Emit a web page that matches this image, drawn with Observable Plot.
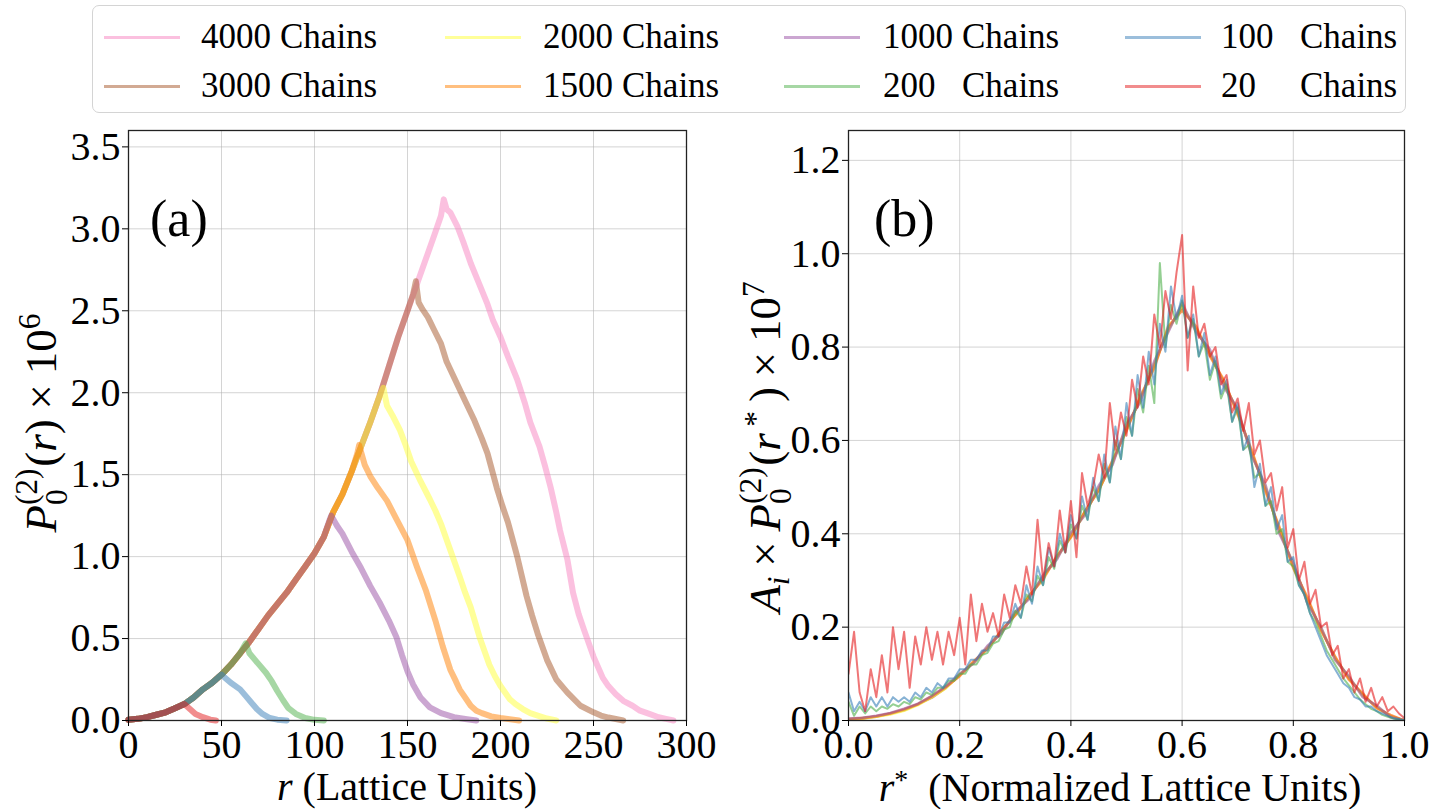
<!DOCTYPE html>
<html><head><meta charset="utf-8">
<script src="https://cdn.jsdelivr.net/npm/d3@7"></script>
<script src="https://cdn.jsdelivr.net/npm/@observablehq/plot@0.6"></script>
<style>
body{margin:0;background:#fff;width:1445px;height:809px;position:relative;overflow:hidden;font-family:"Liberation Serif","Times New Roman",serif;color:#000}
.abs{position:absolute;white-space:nowrap;line-height:1}
#legend{position:absolute;left:92px;top:5px;width:1314px;height:108px;border:1.5px solid #d4d4d4;border-radius:7px;box-sizing:border-box}
.lg-line{position:absolute;height:3px;margin-top:-1.5px;opacity:0.5}
.lg-text{position:absolute;font-size:35px;line-height:1;transform:translateY(-52%)}
.ylab{position:absolute;transform:translate(-50%,-50%) rotate(-90deg);font-size:45px;white-space:nowrap;line-height:1}
.xlab{position:absolute;transform:translate(-50%,-50%);font-size:40px;white-space:nowrap;line-height:1}
.ss{display:inline-block;font-size:0.7em;line-height:0.95;vertical-align:-0.36em;text-align:left;margin-right:0.05em}
.ss span{display:block}
.sp{font-size:0.7em;vertical-align:0.5em}
.tm{margin:0 0.22em}
.plab{position:absolute;font-size:52px;line-height:1}
</style></head><body>
<div id="legend"></div>
<div id="pa" class="abs" style="left:0;top:120px"></div>
<div id="pb" class="abs" style="left:720px;top:120px"></div>
<div class="plab" style="left:150px;top:193px">(a)</div>
<div class="plab" style="left:874px;top:193px">(b)</div>
<div class="ylab" style="left:42px;top:423px"><i>P</i><span class="ss"><span>(2)</span><span>0</span></span>(<i>r</i>)<span class="tm">×</span>10<span class="sp">6</span></div>
<div class="ylab" style="left:766px;top:447px"><i>A</i><span class="sp" style="vertical-align:-0.3em"><i>i</i></span><span class="tm">×</span><i>P</i><span class="ss"><span>(2)</span><span>0</span></span>(<i>r</i><span class="sp" style="vertical-align:0.45em">&thinsp;*</span>&thinsp;)<span class="tm">×</span>10<span class="sp">7</span></div>
<div class="xlab" style="left:407px;top:787px"><i>r</i> (Lattice Units)</div>
<div class="xlab" style="left:1120px;top:787px"><i>r</i><span class="sp" style="vertical-align:0.45em">*</span>&nbsp; (Normalized Lattice Units)</div>
<script>
// ---------- series ----------
const chains = ["4000","3000","2000","1500","1000","200","100","20"];
const colors = ["#f781bf","#a65628","#ffff33","#ff7f00","#984ea3","#4daf4a","#377eb8","#e41a1c"];

// ---------- panel (a): shared rising edge, r (lattice units) and P x 1e6 ----------
const riseR = [0,5,10,15,20,25,30,35,40,45,50,55,60,65,70,75,80,85,90,95,100,105,110,115,120,125,130,135,140,145,150,155,160,165];
const riseY = [0.005,0.01,0.02,0.035,0.05,0.075,0.10,0.14,0.19,0.23,0.28,0.34,0.41,0.48,0.56,0.64,0.71,0.78,0.86,0.94,1.02,1.12,1.27,1.38,1.52,1.67,1.82,1.98,2.16,2.34,2.50,2.66,2.82,2.98];
const riseEnd = [165,150,135,120,105,60,50,30];

const tail4000 = [[168,3.08],[169.5,3.18],[171,3.12],[173,3.10],[177,3.01],[180,2.92],[184,2.79],[188,2.68],[193,2.54],[196,2.44],[200,2.34],[204,2.22],[209,2.08],[213,1.94],[216,1.82],[221,1.67],[224,1.55],[227,1.42],[230,1.27],[232,1.16],[236,0.98],[239,0.78],[242,0.65],[245,0.55],[250,0.39],[255,0.26],[258,0.21],[262,0.16],[266,0.12],[271,0.09],[275,0.06],[280,0.04],[285,0.02],[289,0.01],[293,0]];
const tail3000 = [[153,2.60],[154.5,2.68],[156,2.55],[158,2.51],[161,2.46],[164,2.39],[168,2.30],[171,2.19],[176,2.07],[181,1.95],[186,1.83],[190,1.72],[193,1.63],[198,1.42],[201,1.31],[204,1.21],[209,1.00],[214,0.76],[217,0.64],[220,0.53],[225,0.37],[230,0.25],[236,0.17],[243,0.09],[250,0.05],[254,0.03],[258,0.018],[266,0]];
const tail2000 = [[137,2.03],[139,1.92],[142,1.86],[146,1.77],[149,1.68],[152,1.58],[157,1.46],[162,1.35],[165,1.28],[168,1.20],[173,1.04],[178,0.88],[181,0.78],[184,0.69],[189,0.50],[194,0.34],[197,0.27],[200,0.21],[205,0.13],[208,0.10],[212,0.07],[216,0.045],[220,0.03],[225,0.012],[230,0]];
const tail1500 = [[123,1.63],[124,1.68],[127,1.56],[130,1.49],[134,1.42],[139,1.34],[144,1.23],[150,1.10],[155,0.94],[160,0.79],[165,0.61],[169,0.45],[173,0.31],[176,0.24],[178,0.19],[184,0.09],[187,0.06],[190,0.045],[195,0.025],[200,0.015],[210,0]];
const tail1000 = [[108,1.22],[109,1.25],[112,1.19],[115,1.14],[120,1.03],[125,0.93],[130,0.82],[135,0.72],[140,0.61],[144,0.51],[147,0.40],[150,0.30],[153,0.22],[157,0.14],[162,0.08],[168,0.045],[175,0.02],[182,0.008],[187,0]];
const tail200 = [[62,0.45],[63,0.47],[65,0.41],[68,0.37],[71,0.33],[74,0.29],[77,0.24],[80,0.18],[83,0.125],[86,0.075],[90,0.04],[95,0.015],[100,0.004],[105,0]];
const tail100 = [[52,0.26],[55,0.23],[60,0.19],[63,0.15],[66,0.11],[69,0.07],[72,0.04],[76,0.015],[80,0.005],[85,0]];
const tail20 = [[33,0.07],[36,0.04],[40,0.02],[44,0.005],[47,0]];
const tails = [tail4000,tail3000,tail2000,tail1500,tail1000,tail200,tail100,tail20];

// ---------- panel (b): normalized r*, A_i P x 1e7 ----------
const rFine = d3.range(0, 101).map(i => i / 100);
const rCoarse = d3.range(0, 41).map(i => i / 40);
const b4000 = [0.002,0.004,0.009,0.014,0.023,0.034,0.051,0.071,0.096,0.126,0.156,0.19,0.229,0.266,0.306,0.349,0.397,0.444,0.497,0.556,0.622,0.692,0.758,0.842,0.88,0.842,0.783,0.727,0.658,0.577,0.493,0.412,0.329,0.262,0.194,0.136,0.089,0.056,0.027,0.011,0];
const b3000 = [0.002,0.005,0.008,0.015,0.022,0.035,0.049,0.07,0.098,0.124,0.155,0.192,0.227,0.265,0.307,0.351,0.394,0.447,0.494,0.553,0.627,0.688,0.762,0.838,0.887,0.838,0.787,0.723,0.662,0.573,0.497,0.408,0.332,0.258,0.196,0.134,0.091,0.054,0.029,0.009,0];
const b2000 = [0.003,0.004,0.008,0.013,0.021,0.033,0.05,0.069,0.099,0.123,0.157,0.188,0.23,0.263,0.308,0.348,0.398,0.442,0.498,0.552,0.63,0.686,0.765,0.836,0.89,0.836,0.79,0.72,0.664,0.57,0.5,0.405,0.335,0.255,0.198,0.132,0.093,0.052,0.03,0.008,0];
const b1500 = [0.003,0.005,0.009,0.015,0.024,0.035,0.052,0.072,0.095,0.127,0.153,0.193,0.225,0.268,0.302,0.353,0.392,0.448,0.492,0.558,0.62,0.695,0.755,0.845,0.878,0.845,0.78,0.73,0.655,0.58,0.49,0.415,0.326,0.265,0.192,0.138,0.087,0.058,0.026,0.012,0];
const b1000 = [0.004,0.006,0.01,0.016,0.025,0.036,0.053,0.073,0.1,0.122,0.16,0.186,0.233,0.26,0.312,0.345,0.402,0.44,0.503,0.548,0.635,0.682,0.77,0.832,0.895,0.832,0.795,0.715,0.668,0.567,0.505,0.4,0.338,0.252,0.2,0.13,0.095,0.05,0.032,0.007,0];
const b200 = [0.04,0.01,0.03,0.015,0.03,0.02,0.03,0.025,0.035,0.03,
  0.04,0.035,0.05,0.045,0.06,0.055,0.07,0.07,0.085,0.085,
  0.10,0.10,0.12,0.12,0.14,0.145,0.165,0.17,0.195,0.20,
  0.235,0.22,0.27,0.255,0.31,0.29,0.35,0.325,0.385,0.36,
  0.42,0.39,0.46,0.43,0.50,0.47,0.55,0.51,0.60,0.56,
  0.65,0.61,0.71,0.66,0.76,0.68,0.98,0.80,0.89,0.85,
  0.90,0.82,0.86,0.78,0.81,0.73,0.77,0.69,0.72,0.64,
  0.67,0.58,0.59,0.52,0.53,0.46,0.47,0.40,0.41,0.34,
  0.33,0.29,0.27,0.23,0.21,0.18,0.15,0.13,0.11,0.09,
  0.075,0.06,0.045,0.035,0.025,0.02,0.012,0.008,0.004,0.002,0];
const b100 = [0.06,0.02,0.04,0.02,0.05,0.03,0.05,0.03,0.05,0.04,
  0.05,0.04,0.06,0.05,0.07,0.06,0.08,0.07,0.09,0.09,
  0.11,0.11,0.13,0.13,0.15,0.15,0.18,0.18,0.21,0.21,
  0.25,0.22,0.29,0.25,0.33,0.29,0.37,0.33,0.40,0.36,
  0.44,0.39,0.48,0.43,0.52,0.47,0.57,0.51,0.63,0.56,
  0.68,0.61,0.74,0.67,0.79,0.72,0.85,0.79,0.93,0.86,
  0.91,0.82,0.87,0.78,0.83,0.74,0.78,0.70,0.73,0.64,
  0.68,0.58,0.61,0.50,0.55,0.46,0.50,0.41,0.44,0.34,
  0.35,0.29,0.27,0.23,0.20,0.17,0.14,0.12,0.10,0.08,
  0.07,0.05,0.045,0.03,0.03,0.02,0.015,0.01,0.005,0.003,0];
const b20 = [0.10,0.19,0.06,0.02,0.11,0.05,0.14,0.06,0.20,0.11,
  0.19,0.07,0.18,0.12,0.20,0.13,0.19,0.12,0.19,0.14,
  0.22,0.12,0.27,0.17,0.25,0.19,0.23,0.18,0.27,0.22,
  0.29,0.25,0.33,0.27,0.43,0.30,0.38,0.33,0.45,0.36,
  0.47,0.35,0.53,0.46,0.50,0.57,0.52,0.68,0.58,0.66,
  0.61,0.73,0.67,0.78,0.72,0.87,0.80,0.92,0.86,0.96,
  1.04,0.75,0.93,0.82,0.85,0.78,0.80,0.72,0.74,0.66,
  0.69,0.62,0.68,0.57,0.60,0.51,0.53,0.45,0.50,0.37,
  0.41,0.30,0.34,0.25,0.28,0.20,0.21,0.14,0.16,0.09,
  0.11,0.06,0.09,0.04,0.07,0.03,0.05,0.02,0.03,0.015,0.005];
const seriesB = [b4000,b3000,b2000,b1500,b1000,b200,b100,b20];

// ---------- ticks ----------
const xTicksA = [0,50,100,150,200,250,300];
const yTicksA = [0,0.5,1,1.5,2,2.5,3,3.5];
const xTicksB = [0,0.2,0.4,0.6,0.8,1];
const yTicksB = [0,0.2,0.4,0.6,0.8,1.0,1.2];

// ---------- build tables ----------
const dataA = chains.map((c, i) => {
  const pts = [];
  riseR.forEach((r, j) => { if (r <= riseEnd[i]) pts.push({r, y: riseY[j]}); });
  tails[i].forEach(([r, y]) => pts.push({r, y}));
  return pts;
});
const dataB = seriesB.map(vals => {
  const grid = vals.length === 101 ? rFine : rCoarse;
  return vals.map((y, j) => ({r: grid[j], y}));
});

const style = {fontFamily: "'Liberation Serif','Times New Roman',serif", fontSize: "40px", background: "transparent", color: "#000"};
const gridOpt = {stroke: "#b0b0b0", strokeOpacity: 0.55, strokeWidth: 1};
const f1 = d3.format(".1f");

const plotA = Plot.plot({
  width: 720, height: 689, marginLeft: 128, marginRight: 34, marginTop: 10, marginBottom: 89,
  x: {domain: [0, 300]}, y: {domain: [0, 3.6]}, style,
  marks: [
    Plot.gridX(xTicksA, gridOpt),
    Plot.gridY(yTicksA, gridOpt),
    ...dataA.map((d, i) => Plot.line(d, {x: "r", y: "y", stroke: colors[i], strokeOpacity: 0.5, strokeWidth: 6})),
    Plot.frame({stroke: "#222", strokeWidth: 1.3}),
    Plot.axisX(xTicksA, {tickSize: 6, tickPadding: 3, label: null, tickFormat: d => String(d)}),
    Plot.axisY(yTicksA, {tickSize: 6, tickPadding: 2, label: null, tickFormat: f1})
  ]
});
document.getElementById("pa").appendChild(plotA);

const plotB = Plot.plot({
  width: 725, height: 689, marginLeft: 128, marginRight: 41, marginTop: 10, marginBottom: 89,
  x: {domain: [0, 1]}, y: {domain: [0, 1.264]}, style,
  marks: [
    Plot.gridX(xTicksB, gridOpt),
    Plot.gridY(yTicksB, gridOpt),
    ...dataB.map((d, i) => Plot.line(d, {x: "r", y: "y", stroke: colors[i], strokeOpacity: 0.6, strokeWidth: i < 5 ? 2.6 : 2, clip: true})),
    Plot.frame({stroke: "#222", strokeWidth: 1.3}),
    Plot.axisX(xTicksB, {tickSize: 6, tickPadding: 3, label: null, tickFormat: f1}),
    Plot.axisY(yTicksB, {tickSize: 6, tickPadding: 2, label: null, tickFormat: f1})
  ]
});
document.getElementById("pb").appendChild(plotB);

// ---------- legend (column-major, 4 columns x 2 rows) ----------
const legend = document.getElementById("legend");
const colLineX = [11, 352, 691, 1032];
const colTextX = [108, 450, 790, 1128];
const rowY = [31, 80];
chains.forEach((c, i) => {
  const col = Math.floor(i / 2), row = i % 2;
  const ln = document.createElement("div");
  ln.className = "lg-line";
  ln.style.cssText = `left:${colLineX[col]}px;top:${rowY[row]}px;width:76px;background:${colors[i]}`;
  legend.appendChild(ln);
  const t1 = document.createElement("div");
  t1.className = "lg-text";
  t1.style.cssText = `left:${colTextX[col]}px;top:${rowY[row]}px`;
  t1.textContent = c;
  legend.appendChild(t1);
  const t2 = document.createElement("div");
  t2.className = "lg-text";
  t2.style.cssText = `left:${colTextX[col] + 79}px;top:${rowY[row]}px`;
  t2.textContent = "Chains";
  legend.appendChild(t2);
});
</script>
</body></html>
